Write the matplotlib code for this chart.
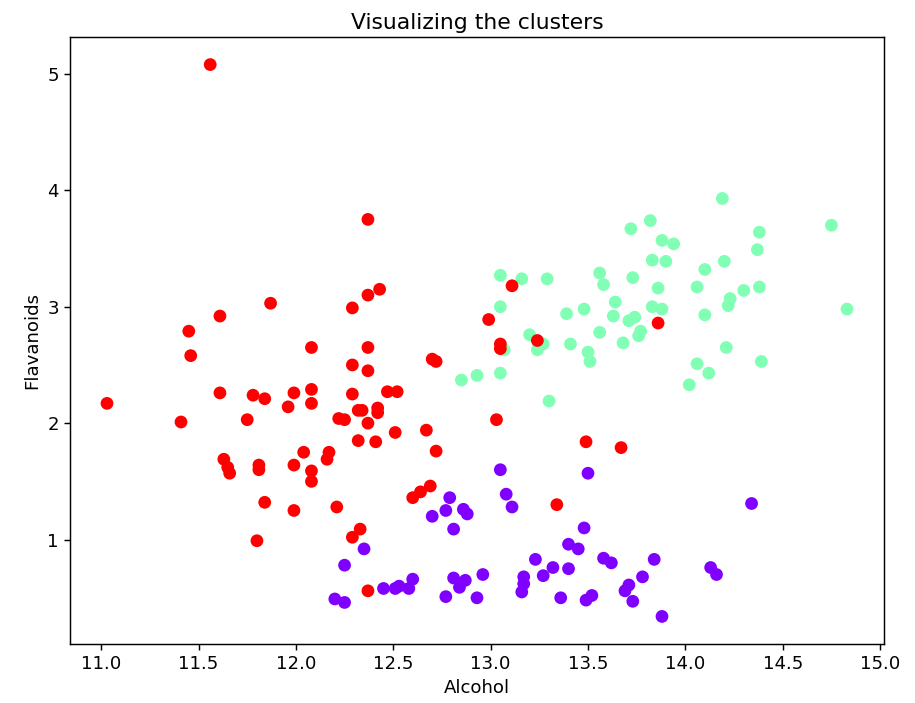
import numpy as np
import matplotlib
matplotlib.use('Agg')
import matplotlib.pyplot as plt

# cluster 0 (purple)
alcohol_c0 = [12.25, 12.20, 12.25, 12.35, 12.45, 12.51, 12.53, 12.58, 12.60, 12.79,
              12.77, 12.70, 12.86, 12.88, 12.81, 13.05, 13.08, 13.11, 12.81, 12.84,
              12.87, 12.77, 12.93, 12.96, 13.23, 13.32, 13.27, 13.17, 13.17, 13.16,
              13.36, 13.50, 14.34, 13.48, 13.40, 13.45, 13.40, 13.58, 13.62, 13.84,
              13.78, 13.71, 13.69, 13.73, 13.49, 13.52, 13.88, 14.13, 14.16]
flav_c0 = [0.78, 0.49, 0.46, 0.92, 0.58, 0.58, 0.60, 0.58, 0.66, 1.36,
           1.25, 1.20, 1.26, 1.22, 1.09, 1.60, 1.39, 1.28, 0.67, 0.59,
           0.65, 0.51, 0.50, 0.70, 0.83, 0.76, 0.69, 0.68, 0.62, 0.55,
           0.50, 1.57, 1.31, 1.10, 0.96, 0.92, 0.75, 0.84, 0.80, 0.83,
           0.68, 0.61, 0.56, 0.47, 0.48, 0.52, 0.34, 0.76, 0.70]

# cluster 1 (green)
alcohol_c1 = [13.05, 13.16, 13.29, 13.05, 13.20, 13.27, 13.24, 13.07, 12.85, 12.93,
              13.05, 13.30, 14.19, 13.82, 13.72, 13.88, 13.94, 13.83, 13.90, 14.10,
              13.56, 13.58, 13.73, 14.06, 13.86, 13.64, 13.48, 13.39, 13.83, 13.88,
              13.63, 14.10, 13.71, 13.74, 13.77, 13.76, 13.56, 13.68, 13.41, 13.50,
              13.51, 14.06, 14.12, 14.02, 14.75, 14.38, 14.37, 14.20, 14.30, 14.38,
              14.23, 14.22, 14.83, 14.21, 14.39]
flav_c1 = [3.27, 3.24, 3.24, 3.00, 2.76, 2.68, 2.63, 2.63, 2.37, 2.41,
           2.43, 2.19, 3.93, 3.74, 3.67, 3.57, 3.54, 3.40, 3.39, 3.32,
           3.29, 3.19, 3.25, 3.17, 3.16, 3.04, 2.98, 2.94, 3.00, 2.98,
           2.92, 2.93, 2.88, 2.91, 2.79, 2.75, 2.78, 2.69, 2.68, 2.61,
           2.53, 2.51, 2.43, 2.33, 3.70, 3.64, 3.49, 3.39, 3.14, 3.17,
           3.07, 3.01, 2.98, 2.65, 2.53]

# cluster 2 (red)
alcohol_c2 = [11.56, 11.87, 11.61, 11.45, 12.29, 12.08, 11.46, 12.29, 11.61, 11.03,
              11.78, 11.84, 11.99, 12.08, 12.08, 11.96, 12.29, 12.32, 11.41, 11.75,
              12.22, 12.25, 12.32, 12.04, 12.17, 12.16, 11.63, 11.65, 11.66, 11.81,
              11.81, 11.99, 12.08, 12.08, 11.84, 11.99, 12.21, 11.80, 12.29, 12.33,
              12.37, 12.43, 12.37, 13.11, 12.99, 13.24, 13.05, 13.05, 12.37, 12.37,
              12.70, 12.72, 12.47, 12.52, 12.34, 12.42, 12.42, 12.37, 12.51, 12.67,
              13.03, 12.41, 12.72, 12.37, 12.60, 12.64, 12.69, 13.34, 13.86, 13.49,
              13.67]
flav_c2 = [5.08, 3.03, 2.92, 2.79, 2.99, 2.65, 2.58, 2.50, 2.26, 2.17,
           2.24, 2.21, 2.26, 2.29, 2.17, 2.14, 2.25, 2.11, 2.01, 2.03,
           2.04, 2.03, 1.85, 1.75, 1.75, 1.69, 1.69, 1.62, 1.57, 1.64,
           1.60, 1.64, 1.59, 1.50, 1.32, 1.25, 1.28, 0.99, 1.02, 1.09,
           3.75, 3.15, 3.10, 3.18, 2.89, 2.71, 2.68, 2.64, 2.65, 2.45,
           2.55, 2.53, 2.27, 2.27, 2.11, 2.13, 2.09, 2.00, 1.92, 1.94,
           2.03, 1.84, 1.76, 0.56, 1.36, 1.41, 1.46, 1.30, 2.86, 1.84,
           1.79]

scale = 1.31

plt.rcParams['font.size'] = 10 * scale
plt.rcParams['axes.linewidth'] = 0.8 * scale
plt.rcParams['xtick.major.size'] = 3.5 * scale
plt.rcParams['ytick.major.size'] = 3.5 * scale
plt.rcParams['xtick.major.width'] = 0.8 * scale
plt.rcParams['ytick.major.width'] = 0.8 * scale


def main():
    x = np.concatenate([alcohol_c1, alcohol_c2, alcohol_c0])
    y = np.concatenate([flav_c1, flav_c2, flav_c0])
    labels = np.concatenate([np.full(len(alcohol_c1), 1),
                             np.full(len(alcohol_c2), 2),
                             np.full(len(alcohol_c0), 0)])

    fig = plt.figure(figsize=(9.15, 7.03), dpi=100)
    ax = fig.add_axes([0.0765, 0.0839, 0.8896, 0.8635])
    ax.scatter(x, y, c=labels, cmap='rainbow', s=36 * scale ** 2, linewidths=scale)
    ax.set_title('Visualizing the clusters', fontsize=12 * scale)
    ax.set_xlabel('Alcohol')
    ax.set_ylabel('Flavanoids')
    fig.savefig('out.png', dpi=100)


if __name__ == '__main__':
    main()
